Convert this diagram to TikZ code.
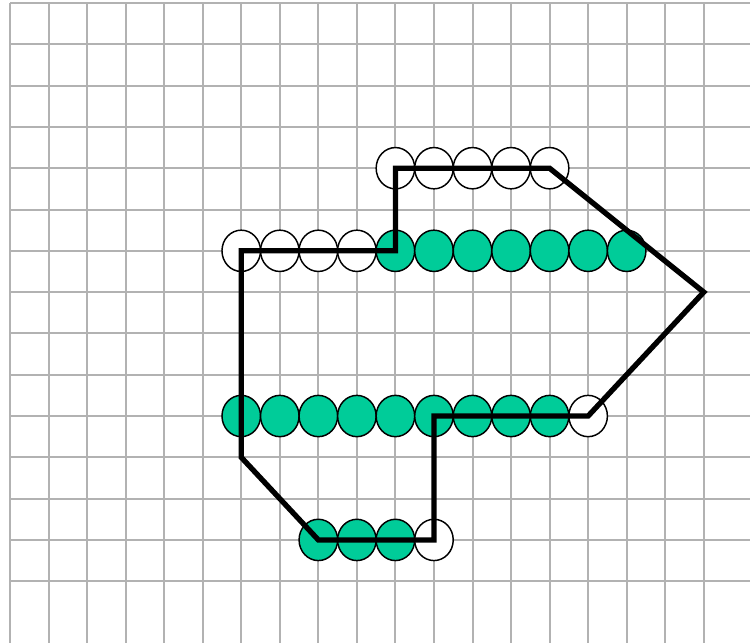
\documentclass[tikz,border=0pt]{standalone}
\usetikzlibrary{shapes.geometric}
\definecolor{gridgray}{RGB}{178,178,178}
\definecolor{bead}{RGB}{0,204,153}
\begin{document}
\begin{tikzpicture}[x=28.9pt,y=30.97pt,
  gridline/.style={draw=gridgray,line width=1.5pt},
  openbead/.style={ellipse,draw=black,line width=1.1pt,fill=white,minimum width=28.9pt,minimum height=30.97pt,inner sep=0pt},
  fullbead/.style={openbead,fill=bead},
  outline/.style={draw=black,line width=4pt,line join=miter}]
\useasboundingbox (-0.2595,0.0727) rectangle (19.2,-15.5);
\foreach \i in {0,...,18} \draw[gridline] (\i,0) -- (\i,-15.5);
\foreach \j in {0,...,14} \draw[gridline] (0,-\j) -- (19.2,-\j);
% row 4
\foreach \i in {10,...,14} \node[openbead] (a\i) at (\i,-4) {};
% row 6
\foreach \i in {6,...,9} \node[openbead] (b\i) at (\i,-6) {};
\foreach \i in {10,...,16} \node[fullbead] (b\i) at (\i,-6) {};
% row 10
\foreach \i in {6,...,14} \node[fullbead] (c\i) at (\i,-10) {};
\node[openbead] (c15) at (15,-10) {};
% row 13
\foreach \i in {8,...,10} \node[fullbead] (d\i) at (\i,-13) {};
\node[openbead] (d11) at (11,-13) {};
% outline
\coordinate (p1) at (6,-6);
\coordinate (p2) at (10,-6);
\coordinate (p3) at (10,-4);
\coordinate (p4) at (14,-4);
\coordinate (p5) at (18,-7);
\coordinate (p6) at (15,-10);
\coordinate (p7) at (11,-10);
\coordinate (p8) at (11,-13);
\coordinate (p9) at (8,-13);
\coordinate (p10) at (6,-11);
\draw[outline] (p1) -- (p2) -- (p3) -- (p4) -- (p5) -- (p6) -- (p7) -- (p8) -- (p9) -- (p10) -- cycle;
\end{tikzpicture}
\end{document}
